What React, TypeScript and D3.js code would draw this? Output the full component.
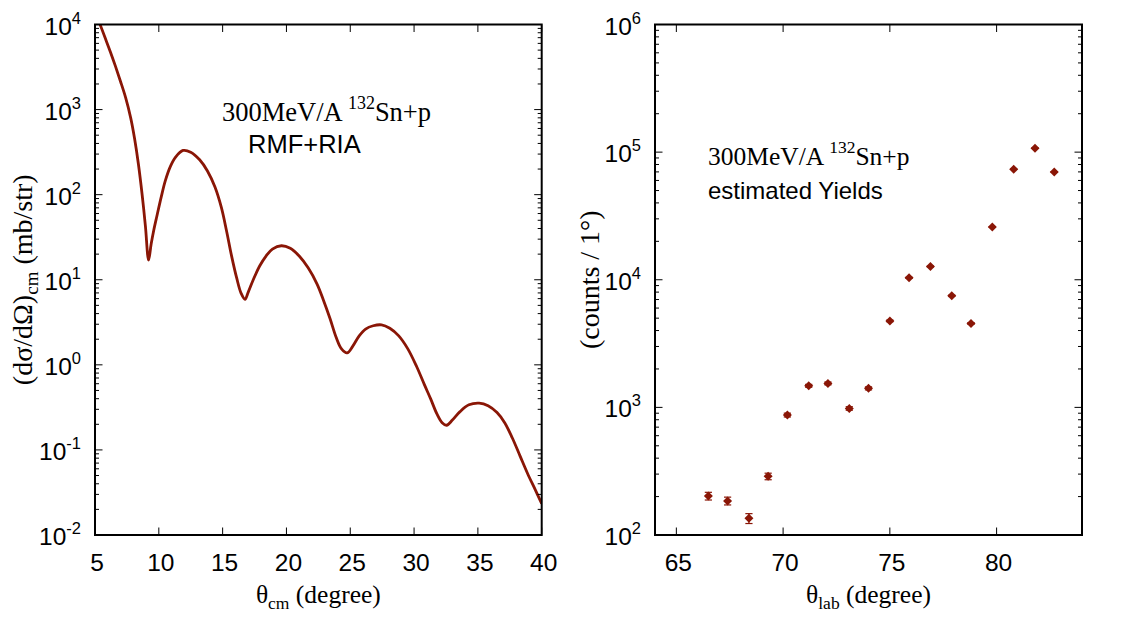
import React from "react";
import * as d3 from "d3";

// ---- Left panel data: RMF+RIA cross section (theta_cm in degree, dσ/dΩ in mb/str)
const thetaCm = [5.0, 5.4, 5.8, 6.2, 6.6, 7.0, 7.4, 7.8, 8.1, 8.4, 8.7, 8.95, 9.2, 9.4, 9.6, 9.85, 10.2, 10.5, 10.9, 11.3, 11.9, 12.5, 13.2, 13.8, 14.4, 14.9, 15.3, 15.7, 16.1, 16.45, 16.75, 17.0, 17.4, 17.9, 18.4, 18.9, 19.6, 20.3, 21.0, 21.7, 22.4, 22.9, 23.4, 23.9, 24.3, 24.75, 25.2, 25.7, 26.2, 26.8, 27.45, 28.1, 28.8, 29.5, 30.2, 30.8, 31.3, 31.8, 32.2, 32.55, 33.0, 33.6, 34.3, 35.1, 35.8, 36.5, 37.1, 37.7, 38.3, 38.9, 39.5, 40.0];
const dSigma = [14450, 10000, 6920, 4790, 3240, 2140, 1380, 794, 457, 229, 97.7, 42.7, 17, 26.3, 38, 56.2, 95.5, 144.5, 214, 275, 331, 316, 257, 191, 123, 70.8, 38, 19.1, 10.5, 6.92, 5.9, 7.1, 10, 14.5, 19, 22.9, 25.1, 23.4, 19, 13.8, 8.9, 5.75, 3.55, 2.09, 1.55, 1.38, 1.66, 2.19, 2.63, 2.88, 2.95, 2.69, 2.19, 1.55, 0.955, 0.589, 0.398, 0.263, 0.209, 0.195, 0.224, 0.282, 0.339, 0.355, 0.331, 0.275, 0.209, 0.138, 0.0851, 0.0525, 0.0339, 0.0234];

// ---- Right panel data: estimated yields (theta_lab in degree, counts / 1°)
const thetaLab = [66.5, 67.4, 68.4, 69.3, 70.2, 71.2, 72.1, 73.1, 74.0, 75.0, 75.9, 76.9, 77.9, 78.8, 79.8, 80.8, 81.8, 82.7];
const yields = [202, 185, 135, 288, 871, 1476, 1541, 981, 1409, 4760, 10350, 12700, 7480, 4550, 25950, 73450, 107400, 70000];
const yieldErr = [14, 13, 12, 17, 30, 38, 39, 31, 38, 69, 102, 113, 86, 67, 161, 271, 328, 265];

// ---- Tick values
const xTicksL = [5, 10, 15, 20, 25, 30, 35, 40];
const yExpL = [-2, -1, 0, 1, 2, 3, 4];
const xTicksR = [65, 70, 75, 80];
const yExpR = [2, 3, 4, 5, 6];

const RED = "#8a1606";
const SANS = "'Liberation Sans', Arial, Helvetica, sans-serif";
const SERIF = "'Liberation Serif', 'Times New Roman', serif";

const LEFT = { x0: 95, x1: 541.7, y0: 24.5, y1: 535 };
const RIGHT = { x0: 655, x1: 1082, y0: 24.5, y1: 535 };

function minorValues(exps: number[]) {
  const out: number[] = [];
  for (let i = 0; i < exps.length - 1; i++) {
    for (let m = 2; m <= 9; m++) out.push(m * Math.pow(10, exps[i]));
  }
  return out;
}

function Frame({ box, x, y, xTicks, yExps }: any) {
  const majorLen = 7.5;
  const minorLen = 4;
  const minors = minorValues(yExps);
  return (
    <g>
      {xTicks.map((t: number) => (
        <g key={"xt" + t}>
          <line x1={x(t)} x2={x(t)} y1={box.y1} y2={box.y1 - majorLen} stroke="#000" strokeWidth={1} />
          <line x1={x(t)} x2={x(t)} y1={box.y0} y2={box.y0 + majorLen} stroke="#000" strokeWidth={1} />
          <text x={x(t) + 2} y={box.y1 + 36} textAnchor="middle" fontFamily={SANS} fontSize={24.5}>{t}</text>
        </g>
      ))}
      {yExps.map((e: number) => {
        const yy = y(Math.pow(10, e));
        return (
          <g key={"yt" + e}>
            <line x1={box.x0} x2={box.x0 + majorLen} y1={yy} y2={yy} stroke="#000" strokeWidth={1} />
            <line x1={box.x1} x2={box.x1 - majorLen} y1={yy} y2={yy} stroke="#000" strokeWidth={1} />
            <text x={box.x0 - 14} y={yy + 10} textAnchor="end" fontFamily={SANS} fontSize={24.5}>
              10<tspan dy={-11} fontSize={16.5}>{String(e)}</tspan>
            </text>
          </g>
        );
      })}
      {minors.map((v: number, i: number) => (
        <g key={"mn" + i}>
          <line x1={box.x0} x2={box.x0 + minorLen} y1={y(v)} y2={y(v)} stroke="#000" strokeWidth={1} />
          <line x1={box.x1} x2={box.x1 - minorLen} y1={y(v)} y2={y(v)} stroke="#000" strokeWidth={1} />
        </g>
      ))}
      <rect x={box.x0} y={box.y0} width={box.x1 - box.x0} height={box.y1 - box.y0} fill="none" stroke="#000" strokeWidth={2} />
    </g>
  );
}

export default function App() {
  const xL = d3.scaleLinear().domain([5, 40]).range([LEFT.x0, LEFT.x1]);
  const yL = d3.scaleLog().domain([1e-2, 1e4]).range([LEFT.y1, LEFT.y0]);
  const xR = d3.scaleLinear().domain([64, 84]).range([RIGHT.x0, RIGHT.x1]);
  const yR = d3.scaleLog().domain([1e2, 1e6]).range([RIGHT.y1, RIGHT.y0]);

  const curve = thetaCm.map((t, i) => [t, dSigma[i]] as [number, number]);
  const linePath = d3
    .line<[number, number]>()
    .x((d) => xL(d[0]))
    .y((d) => yL(d[1]))
    .curve(d3.curveCatmullRom.alpha(0.5))(curve) as string;

  const r = 4.5;
  const cap = 3.6;

  return (
    <svg width={1126} height={617} style={{ position: "absolute", left: 0, top: 0, background: "#fff" }}>
      <defs>
        <clipPath id="clipL">
          <rect x={LEFT.x0} y={LEFT.y0} width={LEFT.x1 - LEFT.x0} height={LEFT.y1 - LEFT.y0} />
        </clipPath>
      </defs>
      <rect x={0} y={0} width={1126} height={617} fill="#fff" />

      {/* Left panel */}
      <path d={linePath} fill="none" stroke={RED} strokeWidth={2.8} clipPath="url(#clipL)" strokeLinejoin="round" />
      <Frame box={LEFT} x={xL} y={yL} xTicks={xTicksL} yExps={yExpL} />
      <text x={222} y={121} fontFamily={SERIF} fontSize={26.5}>
        300MeV/A <tspan dy={-12} fontSize={18}>132</tspan><tspan dy={12}>Sn+p</tspan>
      </text>
      <text x={248} y={153} fontFamily={SANS} fontSize={25.5}>RMF+RIA</text>
      <text x={(LEFT.x0 + LEFT.x1) / 2} y={603} textAnchor="middle" fontFamily={SERIF} fontSize={25.5}>
        θ<tspan dy={6} fontSize={17.5}>cm</tspan><tspan dy={-6}> (degree)</tspan>
      </text>
      <text transform={`translate(32,${(LEFT.y0 + LEFT.y1) / 2}) rotate(-90)`} textAnchor="middle" fontFamily={SERIF} fontSize={28}>
        (dσ/dΩ)<tspan dy={6} fontSize={19}>cm</tspan><tspan dy={-6}> (mb/str)</tspan>
      </text>

      {/* Right panel */}
      <Frame box={RIGHT} x={xR} y={yR} xTicks={xTicksR} yExps={yExpR} />
      {thetaLab.map((t, i) => {
        const cx = xR(t);
        const cy = yR(yields[i]);
        const yt = yR(yields[i] + yieldErr[i]);
        const yb = yR(yields[i] - yieldErr[i]);
        return (
          <g key={"pt" + i} stroke={RED} strokeWidth={1.2}>
            <line x1={cx} x2={cx} y1={yt} y2={yb} />
            <line x1={cx - cap} x2={cx + cap} y1={yt} y2={yt} />
            <line x1={cx - cap} x2={cx + cap} y1={yb} y2={yb} />
            <path d={`M${cx},${cy - r}L${cx + r},${cy}L${cx},${cy + r}L${cx - r},${cy}Z`} fill={RED} stroke="none" />
          </g>
        );
      })}
      <text x={708} y={165} fontFamily={SERIF} fontSize={25.5}>
        300MeV/A <tspan dy={-12} fontSize={17.5}>132</tspan><tspan dy={12}>Sn+p</tspan>
      </text>
      <text x={708} y={199} fontFamily={SANS} fontSize={24}>estimated Yields</text>
      <text x={(RIGHT.x0 + RIGHT.x1) / 2} y={603} textAnchor="middle" fontFamily={SERIF} fontSize={25.5}>
        θ<tspan dy={6} fontSize={17.5}>lab</tspan><tspan dy={-6}> (degree)</tspan>
      </text>
      <text transform={`translate(599,${(RIGHT.y0 + RIGHT.y1) / 2}) rotate(-90)`} textAnchor="middle" fontFamily={SERIF} fontSize={28}>
        (counts / 1°)
      </text>
    </svg>
  );
}
